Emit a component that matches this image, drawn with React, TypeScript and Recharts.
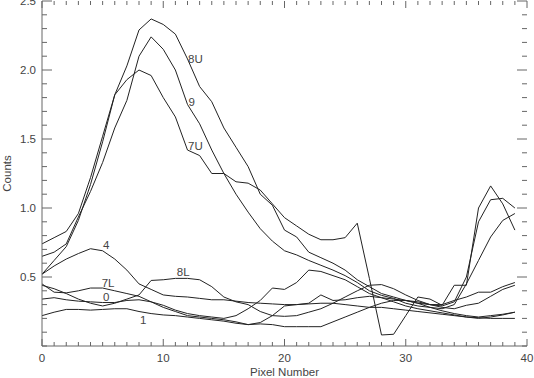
import React from 'react';
import { LineChart, Line, XAxis, YAxis, ReferenceDot } from 'recharts';

const PIXELS = [0,1,2,3,4,5,6,7,8,9,10,11,12,13,14,15,16,17,18,19,20,21,22,23,24,25,26,27,28,29,30,31,32,33,34,35,36,37,38,39];

const S_8U = [0.74,0.785,0.83,0.96,1.22,1.52,1.82,2.03,2.29,2.37,2.33,2.26,2.08,1.88,1.77,1.58,1.44,1.30,1.10,1.02,0.84,0.79,0.68,0.64,0.60,0.55,0.48,0.43,0.38,0.355,0.33,0.32,0.30,0.29,0.32,0.50,0.90,1.06,1.07,1.00];
const S_9 = [0.65,0.68,0.74,0.935,1.12,1.33,1.58,1.78,2.10,2.24,2.15,2.00,1.75,1.61,1.42,1.25,1.10,0.97,0.85,0.76,0.69,0.66,0.62,0.585,0.55,0.51,0.46,0.40,0.367,0.345,0.31,0.29,0.28,0.27,0.30,0.45,0.62,0.79,0.91,0.96];
const S_7U = [0.52,0.62,0.72,0.91,1.17,1.48,1.82,1.93,2.00,1.96,1.80,1.66,1.42,1.38,1.25,1.25,1.19,1.18,1.13,1.03,0.93,0.87,0.81,0.77,0.77,0.785,0.89,0.49,0.08,0.085,0.22,0.355,0.34,0.295,0.44,0.44,1.00,1.16,1.03,0.84];
const S_4 = [0.52,0.58,0.63,0.67,0.705,0.69,0.63,0.55,0.45,0.41,0.37,0.36,0.355,0.345,0.335,0.335,0.325,0.315,0.31,0.305,0.30,0.30,0.31,0.37,0.33,0.335,0.35,0.36,0.35,0.34,0.33,0.31,0.30,0.30,0.33,0.355,0.39,0.39,0.43,0.46];
const S_8L = [0.44,0.415,0.38,0.34,0.31,0.29,0.31,0.34,0.37,0.475,0.48,0.49,0.49,0.48,0.43,0.355,0.32,0.30,0.25,0.22,0.215,0.22,0.245,0.27,0.31,0.355,0.40,0.44,0.445,0.415,0.37,0.33,0.30,0.28,0.27,0.295,0.31,0.36,0.41,0.44];
const S_7L = [0.45,0.39,0.385,0.40,0.42,0.42,0.40,0.38,0.36,0.32,0.28,0.25,0.22,0.21,0.20,0.19,0.175,0.155,0.17,0.22,0.29,0.30,0.305,0.31,0.31,0.30,0.29,0.28,0.28,0.27,0.26,0.25,0.24,0.23,0.22,0.21,0.205,0.20,0.20,0.20];
const S_0 = [0.34,0.35,0.335,0.325,0.32,0.315,0.315,0.33,0.335,0.32,0.295,0.26,0.235,0.22,0.21,0.20,0.22,0.27,0.33,0.42,0.41,0.46,0.55,0.54,0.51,0.48,0.43,0.38,0.35,0.32,0.29,0.27,0.255,0.24,0.225,0.21,0.20,0.21,0.225,0.245];
const S_1 = [0.22,0.245,0.265,0.265,0.26,0.265,0.27,0.27,0.25,0.235,0.225,0.22,0.21,0.20,0.19,0.18,0.165,0.155,0.16,0.155,0.14,0.14,0.14,0.14,0.175,0.21,0.245,0.28,0.31,0.33,0.33,0.31,0.28,0.255,0.235,0.22,0.21,0.22,0.23,0.245];

const SERIES_NAMES = ['8U', '9', '7U', '4', '8L', '7L', '0', '1'];
const SERIES_VALUES = [S_8U, S_9, S_7U, S_4, S_8L, S_7L, S_0, S_1];

// curve labels placed in data units (pixel number, counts)
const LABEL_TEXT = ['8U', '9', '7U', '4', '7L', '0', '8L', '1'];
const LABEL_X = [12.65, 12.35, 12.65, 5.3, 5.45, 5.3, 11.65, 8.35];
const LABEL_Y = [2.08, 1.77, 1.45, 0.73, 0.46, 0.355, 0.535, 0.19];

const X_TICKS = [0,1,2,3,4,5,6,7,8,9,10,11,12,13,14,15,16,17,18,19,20,21,22,23,24,25,26,27,28,29,30,31,32,33,34,35,36,37,38,39,40];
const X_LABELED = [0, 10, 20, 30, 40];
const Y_TICKS = [0,0.1,0.2,0.3,0.4,0.5,0.6,0.7,0.8,0.9,1.0,1.1,1.2,1.3,1.4,1.5,1.6,1.7,1.8,1.9,2.0,2.1,2.2,2.3,2.4,2.5];
const Y_LABELED = ['0.5', '1.0', '1.5', '2.0', '2.5'];

const data = PIXELS.map((p, i) => {
  const row: Record<string, number> = { x: p };
  SERIES_NAMES.forEach((n, k) => { row[n] = SERIES_VALUES[k][i]; });
  return row;
});

const W = 534;
const H = 378;
const M = { top: 1, right: 7, left: 0, bottom: 0 };
const YW = 42;
const XH = 32;
const PL = M.left + YW;
const PR = W - M.right;
const PT = M.top;
const PB = H - M.bottom - XH;
const AX = '#666';
const TXT = '#444';
const FONT = '"Liberation Sans", Arial, sans-serif';
const FS = 11.5;

const XTick = (props: any) => {
  const { x, payload } = props;
  const v = payload.value;
  const major = v % 10 === 0;
  const len = major ? 7 : 4;
  return (
    <g>
      <line x1={x} x2={x} y1={PB} y2={PB - len} stroke={AX} />
      <line x1={x} x2={x} y1={PT} y2={PT + len} stroke={AX} />
      {X_LABELED.includes(v) ? (
        <text x={x} y={PB + 16} textAnchor="middle" fontSize={FS} fill={TXT} fontFamily={FONT}>{String(v)}</text>
      ) : null}
    </g>
  );
};

const YTick = (props: any) => {
  const { y, payload } = props;
  const v = payload.value;
  const s = v.toFixed(1);
  const major = Y_LABELED.includes(s);
  const len = major ? 10 : 5;
  return (
    <g>
      <line x1={PL} x2={PL + len} y1={y} y2={y} stroke={AX} />
      <line x1={PR} x2={PR - len} y1={y} y2={y} stroke={AX} />
      {major ? (
        <text x={36} y={y + 4} textAnchor="end" fontSize={FS} fill={TXT} fontFamily={FONT}>{s}</text>
      ) : null}
    </g>
  );
};

const CountsLabel = (props: any) => {
  const vb = props.viewBox || {};
  const cy = (vb.y ?? PT) + (vb.height ?? PB - PT) / 2;
  const cx = 11;
  return (
    <text x={cx} y={cy} transform={`rotate(-90, ${cx}, ${cy})`} textAnchor="middle" fontSize={FS} fill={TXT} fontFamily={FONT}>Counts</text>
  );
};

const PixelLabel = (props: any) => {
  const vb = props.viewBox || {};
  const cx = (vb.x ?? PL) + (vb.width ?? PR - PL) / 2;
  return (
    <text x={cx} y={376} textAnchor="middle" fontSize={FS} fill={TXT} fontFamily={FONT}>Pixel Number</text>
  );
};

export default function App() {
  return (
    <div style={{ position: 'absolute', left: 0, top: 0, width: W, height: H, background: '#fff' }}>
      <LineChart width={W} height={H} data={data} margin={M}>
        <XAxis
          xAxisId="b"
          dataKey="x"
          type="number"
          domain={[0, 40]}
          ticks={X_TICKS}
          interval={0}
          height={XH}
          tickLine={false}
          axisLine={{ stroke: AX }}
          tick={<XTick />}
          allowDataOverflow
          label={{ content: <PixelLabel /> }}
        />
        <XAxis xAxisId="t" orientation="top" type="number" domain={[0, 40]} height={0} tick={false} tickLine={false} axisLine={{ stroke: AX }} />
        <YAxis
          yAxisId="l"
          type="number"
          domain={[0, 2.5]}
          ticks={Y_TICKS}
          interval={0}
          width={YW}
          tickLine={false}
          axisLine={{ stroke: AX }}
          tick={<YTick />}
          allowDataOverflow
          label={{ content: <CountsLabel /> }}
        />
        <YAxis yAxisId="r" orientation="right" type="number" domain={[0, 2.5]} width={0} tick={false} tickLine={false} axisLine={{ stroke: AX }} />
        {SERIES_NAMES.map((n) => (
          <Line
            key={n}
            xAxisId="b"
            yAxisId="l"
            type="linear"
            dataKey={n}
            stroke="#222"
            strokeWidth={1}
            dot={false}
            activeDot={false}
            isAnimationActive={false}
          />
        ))}
        {LABEL_TEXT.map((t, i) => (
          <ReferenceDot
            key={t}
            xAxisId="b"
            yAxisId="l"
            x={LABEL_X[i]}
            y={LABEL_Y[i]}
            r={0}
            stroke="none"
            fill="none"
            label={{ value: t, position: 'center', fontSize: FS, fill: TXT, fontFamily: FONT }}
          />
        ))}
      </LineChart>
    </div>
  );
}
